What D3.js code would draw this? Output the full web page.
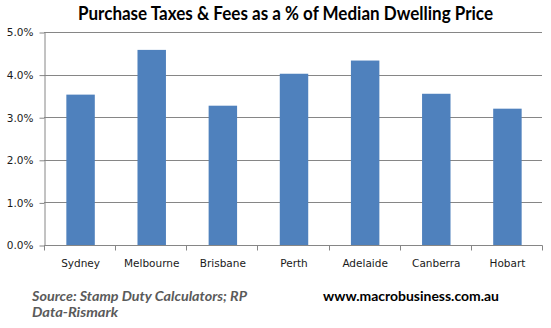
<!DOCTYPE html>
<html>
<head>
<meta charset="utf-8">
<script src="https://cdn.jsdelivr.net/npm/d3@7"></script>
<style>
  html, body { margin: 0; padding: 0; background: #fff; }
  svg { display: block; }
</style>
</head>
<body>
<svg id="chart" width="551" height="328"></svg>
<script>
// Purchase taxes & fees, share of median dwelling price, by capital city
const cities = ["Sydney", "Melbourne", "Brisbane", "Perth", "Adelaide", "Canberra", "Hobart"];
const taxShare = [0.0353, 0.0458, 0.0327, 0.0402, 0.0433, 0.0355, 0.0320];
const yTicks = [0, 0.01, 0.02, 0.03, 0.04, 0.05];

const titleText = "Purchase Taxes & Fees as a % of Median Dwelling Price";
const sourceLines = ["Source: Stamp Duty Calculators; RP", "Data-Rismark"];
const siteText = "www.macrobusiness.com.au";

const svg = d3.select("#chart");
const plot = { left: 44, right: 542, top: 32, bottom: 245 };
const gridColor = "#868686";

const x = d3.scaleBand().domain(cities).range([plot.left, plot.right]);
const y = d3.scaleLinear().domain([0, 0.05]).range([plot.bottom, plot.top]);
const fmt = d3.format(".1%");

// horizontal gridlines
svg.append("g")
  .selectAll("line")
  .data(yTicks.filter(t => t > 0))
  .join("line")
  .attr("x1", plot.left)
  .attr("x2", plot.right)
  .attr("y1", d => Math.round(y(d)) + 0.5)
  .attr("y2", d => Math.round(y(d)) + 0.5)
  .attr("stroke", gridColor)
  .attr("stroke-width", 1);

// bars
const barW = x.bandwidth() * 0.4;
svg.append("g")
  .selectAll("rect")
  .data(cities)
  .join("rect")
  .attr("x", (d) => x(d) + (x.bandwidth() - barW) / 2 + 1)
  .attr("width", barW)
  .attr("y", (d, i) => y(taxShare[i]))
  .attr("height", (d, i) => y(0) - y(taxShare[i]))
  .attr("fill", "#4F81BD");

// value axis
const yAxis = svg.append("g")
  .attr("transform", `translate(${plot.left + 0.5},0.5)`)
  .call(d3.axisLeft(y).tickValues(yTicks).tickFormat(fmt).tickSize(5).tickSizeOuter(0).tickPadding(6));
yAxis.select(".domain").attr("stroke", gridColor);
yAxis.selectAll(".tick line").attr("stroke", gridColor);
yAxis.selectAll(".tick text")
  .attr("font-family", "DejaVu Sans, sans-serif")
  .attr("font-size", "10.5px")
  .attr("fill", "#1a1a1a");

// category axis with ticks between categories
const xg = svg.append("g").attr("transform", `translate(0,${Math.round(plot.bottom) + 0.5})`);
xg.append("line")
  .attr("x1", plot.left)
  .attr("x2", plot.right + 0.5)
  .attr("stroke", gridColor);
const boundaries = cities.map(c => x(c)).concat([x.range()[1]]);
xg.selectAll("line.tick")
  .data(boundaries)
  .join("line")
  .attr("class", "tick")
  .attr("x1", d => Math.round(d) + 0.5)
  .attr("x2", d => Math.round(d) + 0.5)
  .attr("y1", 0)
  .attr("y2", 5)
  .attr("stroke", gridColor);
xg.selectAll("text")
  .data(cities)
  .join("text")
  .attr("x", d => x(d) + x.bandwidth() / 2 + 1)
  .attr("y", 21.5)
  .attr("text-anchor", "middle")
  .attr("font-family", "DejaVu Sans, sans-serif")
  .attr("font-size", "10.5px")
  .attr("fill", "#1a1a1a")
  .text(d => d);

// title
svg.append("text")
  .attr("x", 78)
  .attr("y", 19.5)
  .attr("textLength", 415)
  .attr("lengthAdjust", "spacingAndGlyphs")
  .attr("font-family", "Lato, 'Open Sans', sans-serif")
  .attr("font-weight", "bold")
  .attr("font-size", "18px")
  .attr("fill", "#000")
  .text(titleText);

// source note
svg.append("g")
  .selectAll("text")
  .data(sourceLines)
  .join("text")
  .attr("x", 32)
  .attr("y", (d, i) => 300.7 + i * 16.3)
  .attr("textLength", (d, i) => i === 0 ? 215 : 86)
  .attr("lengthAdjust", "spacingAndGlyphs")
  .attr("font-family", "Lato, 'Open Sans', sans-serif")
  .attr("font-weight", "bold")
  .attr("font-style", "italic")
  .attr("font-size", "13.5px")
  .attr("fill", "#5a5a5a")
  .text(d => d);

// site credit
svg.append("text")
  .attr("x", 323)
  .attr("y", 300.7)
  .attr("textLength", 176)
  .attr("lengthAdjust", "spacingAndGlyphs")
  .attr("font-family", "Lato, 'Open Sans', sans-serif")
  .attr("font-weight", "bold")
  .attr("font-size", "13.5px")
  .attr("fill", "#000")
  .text(siteText);
</script>
</body>
</html>
